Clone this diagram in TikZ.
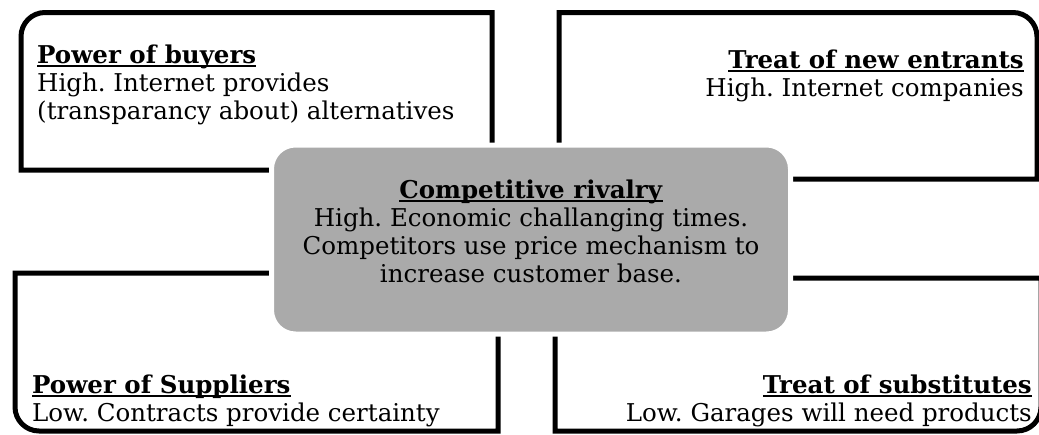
\documentclass[tikz,border=0pt]{standalone}
\usepackage{fontspec}
\setmainfont{DejaVu Serif}
\frenchspacing
\definecolor{boxgray}{RGB}{170,170,170}
\newcommand\ulbox[1]{\setbox0=\hbox{#1}\rlap{\rule[-3.5pt]{\wd0}{1.6pt}}\box0}
\begin{document}
\begin{tikzpicture}[x=1pt,y=-1pt,
  frame/.style={draw=black,line width=5pt},
  centerbox/.style={fill=boxgray,draw=white,line width=5pt,rounded corners=24pt,inner sep=0pt},
  txt/.style={inner sep=0pt,font=\fontsize{24.5}{28}\selectfont}]
\useasboundingbox (0,0) rectangle (1039,434);
\fill[white] (0,0) rectangle (1039,434);
% outer boxes
\draw[frame] (492,170) -- (21,170) -- (21,36.5) arc[start angle=180,end angle=90,radius=24pt] -- (492,12.5) -- cycle;
\draw[frame] (559,179) -- (559,12.5) -- (1013,12.5) arc[start angle=90,end angle=0,radius=24pt] -- (1037,179) -- cycle;
\draw[frame] (498,273) -- (15,273) -- (15,407) arc[start angle=180,end angle=270,radius=24pt] -- (498,431) -- cycle;
\draw[frame] (555,278) -- (1041,278) -- (1041,407) arc[start angle=0,end angle=-90,radius=24pt] -- (555,431) -- cycle;
% centre box
\node[centerbox,minimum width=519pt,minimum height=189pt] (rival) at (531,239.5) {};
% texts
\node[txt,anchor=base west] (b1) at (37,63) {\ulbox{\textbf{Power of buyers}}};
\node[txt,anchor=base west] (b2) at (37,91) {High. Internet provides};
\node[txt,anchor=base west] (b3) at (37,119) {(transparancy about) alternatives};
\node[txt,anchor=base east] (e1) at (1024,68) {\ulbox{\textbf{Treat of new entrants}}};
\node[txt,anchor=base east] (e2) at (1024,96) {High. Internet companies};
\node[txt,anchor=base] (r1) at (531,198) {\ulbox{\textbf{Competitive rivalry}}};
\node[txt,anchor=base] (r2) at (531,226) {High. Economic challanging times.};
\node[txt,anchor=base] (r3) at (531,254) {Competitors use price mechanism to};
\node[txt,anchor=base] (r4) at (531,282) {increase customer base.};
\node[txt,anchor=base west] (s1) at (32,393) {\ulbox{\textbf{Power of Suppliers}}};
\node[txt,anchor=base west] (s2) at (32,421) {Low. Contracts provide certainty};
\node[txt,anchor=base east] (u1) at (1032,393) {\ulbox{\textbf{Treat of substitutes}}};
\node[txt,anchor=base east] (u2) at (1032,421) {Low. Garages will need products};
\end{tikzpicture}
\end{document}
